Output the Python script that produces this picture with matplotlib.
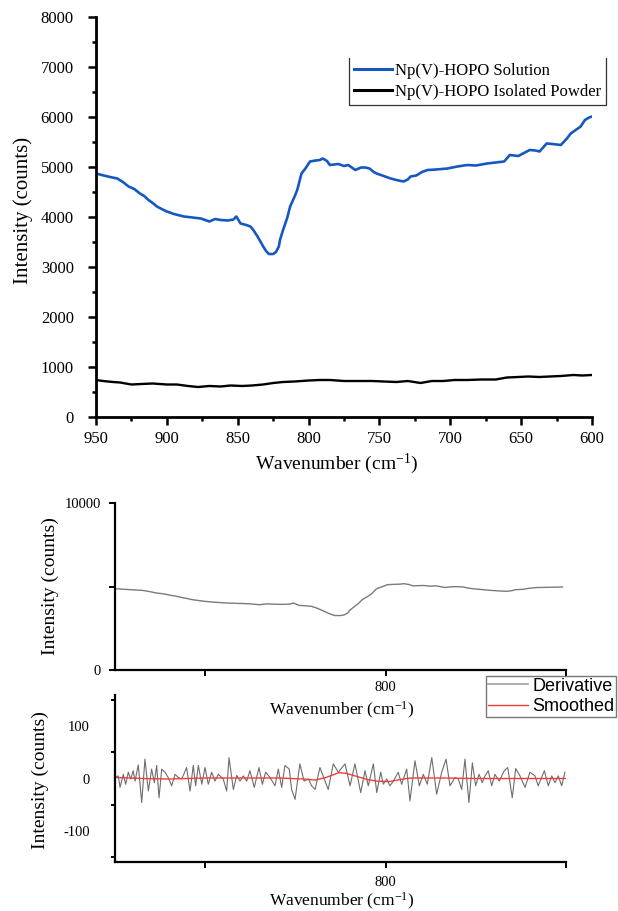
import numpy as np
import matplotlib
matplotlib.use("Agg")
import matplotlib.pyplot as plt
from matplotlib.ticker import MultipleLocator
from matplotlib.lines import Line2D

plt.rcParams['font.family'] = ['Liberation Serif', 'DejaVu Serif']
plt.rcParams['mathtext.fontset'] = 'custom'
plt.rcParams['mathtext.rm'] = 'Liberation Serif'
plt.rcParams['mathtext.it'] = 'Liberation Serif:italic'
plt.rcParams['axes.unicode_minus'] = False

# ---------------- data ----------------
sol_wn = [950, 946, 940, 935, 931, 927, 923, 919, 916, 913, 910, 907, 903, 900, 895, 888,
          882, 876, 870, 866, 862, 857, 853, 851, 848, 844, 841, 839, 836, 832, 830, 828,
          825, 823, 821, 820, 818, 815, 813, 810, 808, 806, 805, 802, 799, 795, 792, 790,
          787, 785, 779, 775, 772, 767, 763, 760, 757, 754, 752, 747, 742, 738, 733, 730,
          728, 724, 720, 716, 710, 702, 695, 688, 682, 674, 668, 662, 658, 652, 648, 644,
          640, 637, 632, 628, 622, 618, 615, 611, 608, 605, 602, 600]
sol_int = [4870, 4840, 4800, 4770, 4700, 4610, 4560, 4470, 4420, 4340, 4280, 4210, 4150, 4110, 4060, 4010,
           3990, 3970, 3910, 3960, 3940, 3930, 3950, 4010, 3870, 3840, 3810, 3740, 3610, 3410, 3320, 3260,
           3260, 3300, 3410, 3560, 3740, 3990, 4210, 4400, 4540, 4760, 4870, 4980, 5110, 5130, 5140, 5170,
           5120, 5040, 5060, 5020, 5040, 4940, 4990, 4990, 4970, 4900, 4870, 4820, 4770, 4740, 4710, 4750,
           4810, 4830, 4900, 4940, 4950, 4970, 5010, 5040, 5030, 5070, 5090, 5110, 5240, 5220, 5280, 5340,
           5330, 5310, 5470, 5460, 5440, 5560, 5670, 5750, 5810, 5940, 5990, 6010]

pow_wn = [950, 945, 938, 933, 925, 918, 910, 900, 893, 885, 878, 870, 862, 855, 847, 840,
          832, 825, 818, 810, 800, 792, 785, 775, 765, 755, 747, 738, 730, 721, 713, 705,
          697, 688, 678, 668, 660, 652, 645, 637, 630, 622, 613, 607, 600]
pow_int = [740, 720, 700, 690, 650, 660, 670, 650, 650, 620, 600, 620, 610, 630, 620, 630,
           650, 680, 700, 710, 730, 740, 740, 720, 720, 720, 710, 700, 720, 680, 720, 720,
           740, 740, 750, 750, 790, 800, 810, 800, 810, 820, 840, 830, 840]

der_wn = [950, 948.2, 947.2, 945.4, 944.1, 942.6, 941.3, 939.9, 938.9, 937.1, 935.2, 933.4, 931.5,
          929.7, 928.2, 926.9, 925.6, 924.1, 922.3, 920.5, 918.6, 916.7, 914.9, 913.0, 910.3,
          908.4, 906.6, 905.3, 903.8, 901.9, 900.1, 898.3, 896.4, 894.6, 892.7, 890.0, 888.1,
          886.8, 884.4, 882.5, 880.7, 878.9, 877.0, 875.2, 872.8, 870.2, 868.3, 866.5, 864.1,
          861.3, 859.5, 857.6, 855.8, 853.4, 852.1, 850.2, 847.5, 845.2, 842.8, 841.0, 839.1,
          836.4, 834.0, 831.8, 829.0, 826.2, 822.5, 819.7, 817.0, 813.8, 811.4, 809.6, 806.8,
          804.9, 802.7, 801.3, 799.4, 797.6, 795.7, 793.0, 791.1, 788.3, 786.5, 783.7, 781.3,
          779.1, 776.9, 774.4, 771.7, 768.9, 766.5, 764.3, 761.5, 759.7, 757.8, 756.0, 753.8,
          751.9, 750.1, 748.2, 746.4, 744.9, 743.1, 741.2, 739.4, 737.0, 734.2, 732.3, 729.8,
          727.9, 725.5, 722.7, 720.0, 717.2, 715.4, 712.0, 709.8, 707.9, 706.1, 704.3, 702.4, 700.6]
der_val = [2, 5, -17, 8, -11, 12, -1, 15, -5, 26, -46, 37, -24,
           18, -8, 25, -37, 18, 12, 2, -14, 8, 2, -1, 21,
           -24, 25, -14, 25, -11, 21, -11, 12, -5, 8, -1, -24,
           40, -21, 6, -5, 5, -5, 15, -17, 21, -11, 12, 2,
           -14, 18, -17, 25, 18, -21, -40, 28, -5, -1, -14, -21,
           21, -1, -21, 28, 12, 28, -14, 28, -27, 15, -14, 28,
           -27, 12, -11, -1, -14, -5, 12, -11, 18, -43, 34, -14,
           8, -11, 40, -30, 12, 37, -14, 2, -1, -21, 37, -46,
           30, -14, 8, -8, 5, 15, -14, 8, -5, 15, 21, -37,
           19, 5, -17, 12, 5, -14, 15, -14, 5, -8, 5, -14, 12]

smo_wn = [950, 935, 920, 900, 880, 860, 845, 839, 833, 826, 822, 816, 810, 805, 798, 792,
          786, 770, 750, 730, 700]
smo_val = [2, 0, -1, 1, 1, 1, -1, -3, 2, 11, 10, 4, -2, -5, -6, -2,
           1, 1, 0, 0, 0]

# ---------------- figure ----------------
W, H = 618, 911
fig = plt.figure(figsize=(W / 100, H / 100), dpi=100)

def fx(px):
    return px / W

def fy(px):
    return 1 - px / H

# Top panel
ax1 = fig.add_axes([fx(96), fy(417), (592 - 96) / W, (417 - 17) / H])
l1, = ax1.plot(sol_wn, sol_int, color='#1558c0', lw=1.9, label='Np(V)-HOPO Solution')
l2, = ax1.plot(pow_wn, pow_int, color='black', lw=1.7, label='Np(V)-HOPO Isolated Powder')
ax1.set_xlim(950, 600)
ax1.set_ylim(0, 8000)
ax1.xaxis.set_major_locator(MultipleLocator(50))
ax1.xaxis.set_minor_locator(MultipleLocator(25))
ax1.yaxis.set_major_locator(MultipleLocator(1000))
ax1.yaxis.set_minor_locator(MultipleLocator(500))
for s in ['top', 'right']:
    ax1.spines[s].set_visible(False)
for s in ['left', 'bottom']:
    ax1.spines[s].set_linewidth(2.0)
ax1.tick_params(which='major', length=6, width=1.8, direction='out', labelsize=12)
ax1.tick_params(which='minor', length=3, width=1.8, direction='out')
ax1.tick_params(axis='y', which='major', pad=10)
ax1.tick_params(axis='x', which='major', pad=4)
ax1.set_ylabel('Intensity (counts)', fontsize=15)
ax1.set_xlabel(r'Wavenumber (cm$^{-1}$)', fontsize=14)
ax1.yaxis.set_label_coords(-0.128, 0.5175)
ax1.xaxis.set_label_coords(0.484, -0.087)
leg1 = ax1.legend(handles=[l1, l2], loc='upper left',
                  bbox_to_anchor=((349 - 96) / (592 - 96), (417 - 58) / 400),
                  frameon=False, fontsize=12, handlelength=2.3, handletextpad=0.15,
                  labelspacing=0.3, borderpad=0.3, borderaxespad=0)
for h in leg1.legend_handles:
    h.set_linewidth(2.2)

# Middle panel
ax2 = fig.add_axes([fx(115), fy(670), (566 - 115) / W, (670 - 503) / H])
mid_wn = [w for w in sol_wn if w >= 700]
mid_int = [v for w, v in zip(sol_wn, sol_int) if w >= 700]
ax2.plot(mid_wn, mid_int, color='#7a7a7a', lw=1.0)
ax2.set_xlim(950, 700)
ax2.set_ylim(0, 10000)
ax2.set_xticks([900, 800, 700], ['', '800', ''])
ax2.set_yticks([0, 5000, 10000], ['0', '', '10000'])

# Bottom panel
ax3 = fig.add_axes([fx(115), fy(862), (566 - 115) / W, (862 - 695) / H])
ld, = ax3.plot(der_wn, der_val, color='#6e6e6e', lw=0.8, label='Derivative')
ls, = ax3.plot(smo_wn, smo_val, color='#f03c3c', lw=1.0, label='Smoothed')
ax3.set_xlim(950, 700)
ax3.set_ylim(-160, 160)
ax3.set_xticks([900, 800, 700], ['', '800', ''])
ax3.set_yticks([-100, 0, 100])
ax3.set_yticks([-150, -50, 50, 150], minor=True)

for ax in (ax1, ax2, ax3):
    ax.patch.set_visible(False)

for ax in (ax2, ax3):
    for s in ['top', 'right']:
        ax.spines[s].set_visible(False)
    for s in ['left', 'bottom']:
        ax.spines[s].set_linewidth(1.6)
    ax.tick_params(which='major', length=4, width=1.4, direction='out', labelsize=10.5)
    ax.tick_params(which='minor', length=3, width=1.4, direction='out')
    ax.set_ylabel('Intensity (counts)', fontsize=14)
    ax.set_xlabel(r'Wavenumber (cm$^{-1}$)', fontsize=12.5)

ax2.tick_params(axis='x', pad=4)
ax2.tick_params(axis='y', pad=6)
ax3.tick_params(axis='x', pad=6)
ax3.tick_params(axis='y', pad=18, length=0)
ax3.tick_params(axis='y', which='minor', length=3)
ax2.yaxis.set_label_coords(-0.124, 0.5)
ax2.xaxis.set_label_coords(0.502, -0.18)
ax3.yaxis.set_label_coords(-0.146, 0.49)
ax3.xaxis.set_label_coords(0.502, -0.172)

leg3 = fig.legend(handles=[ld, ls], loc='upper left', bbox_to_anchor=(fx(486), fy(676)),
                  prop={'family': 'Liberation Sans', 'size': 13}, frameon=True, fancybox=False,
                  edgecolor='#555555', handlelength=2.2, handletextpad=0.25,
                  labelspacing=0.2, borderpad=0.1, borderaxespad=0)
leg3.get_frame().set_linewidth(1.0)
leg3.legend_handles[0].set_color('#a0a0a0')
leg3.legend_handles[0].set_linewidth(1.2)

# open-topped frame for the upper legend
fig.canvas.draw()
bb = leg1.get_window_extent()
inv = fig.transFigure.inverted()
(x0, y0), (x1, y1) = inv.transform([(bb.x0, bb.y0), (bb.x1, bb.y1)])
fig.add_artist(Line2D([x0, x0, x1, x1], [y1, y0, y0, y1], transform=fig.transFigure,
                      color='#333333', lw=0.9))

fig.savefig('out.png', dpi=100)
